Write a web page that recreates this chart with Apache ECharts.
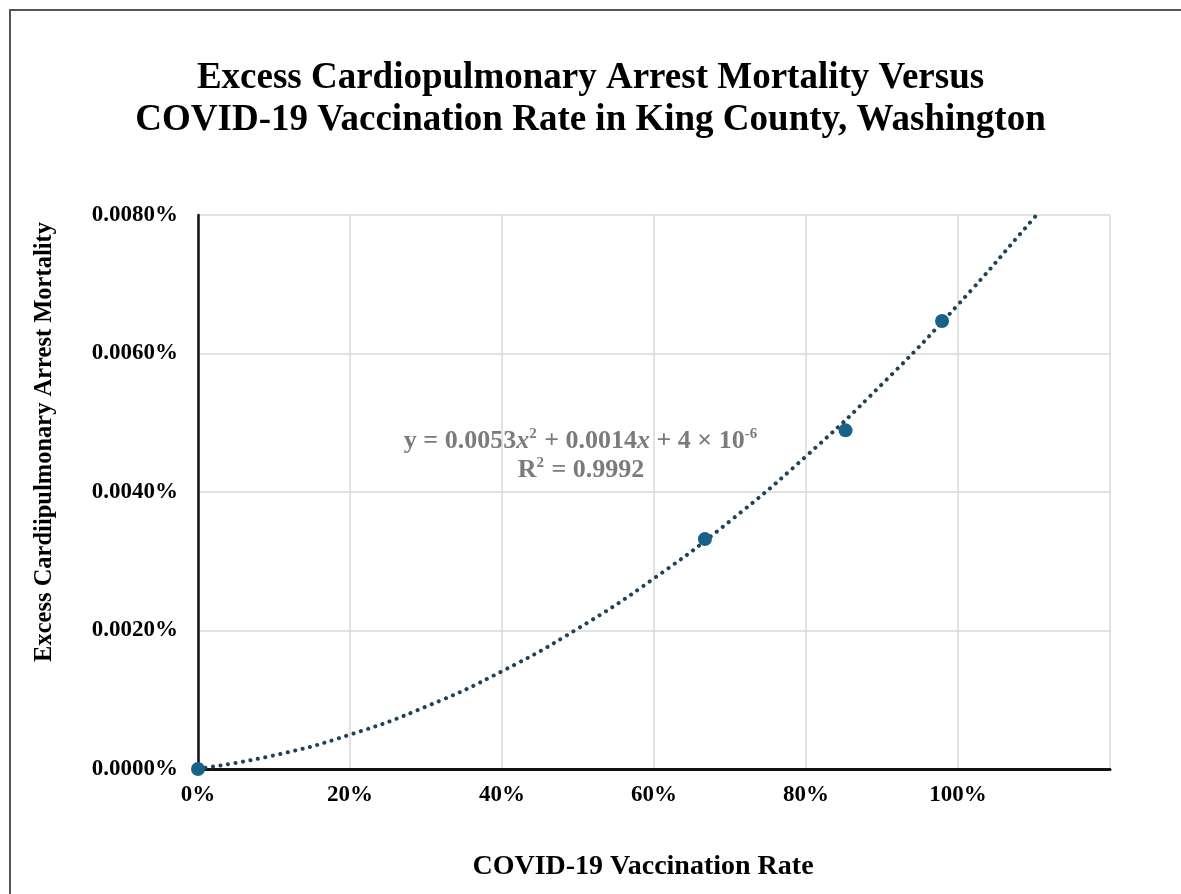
<!DOCTYPE html>
<html>
<head>
<meta charset="utf-8">
<title>Excess Cardiopulmonary Arrest Mortality</title>
<script src="https://cdn.jsdelivr.net/npm/echarts@6/dist/echarts.min.js"></script>
<style>
  html, body { margin: 0; padding: 0; background: #fff; }
  #chart { width: 1181px; height: 894px; }
</style>
</head>
<body>
<div id="chart"></div>
<script>
// observed points: vaccination rate (fraction), excess mortality (percent units)
var vaxRate = [0, 0.667, 0.852, 0.979];
var mortality = [0, 0.00332, 0.00489, 0.00647];

// trendline
var trendX = [0, 0.1, 0.2, 0.3, 0.4, 0.5, 0.6, 0.7, 0.8, 0.9, 1.0, 1.1, 1.103];
var trendY = [0.000004, 0.000197, 0.000496, 0.000901, 0.001412, 0.002029, 0.002752, 0.003581, 0.004516, 0.005557, 0.006704, 0.007957, 0.008];

var xTicks = [0, 0.2, 0.4, 0.6, 0.8, 1.0, 1.2];
var yTicks = [0, 0.002, 0.004, 0.006, 0.008];

var serif = '"Liberation Serif", "Times New Roman", serif';

var chart = echarts.init(document.getElementById('chart'));

var pts = vaxRate.map(function (x, i) { return [x, mortality[i]]; });
var trend = trendX.map(function (x, i) { return [x, trendY[i]]; });

var eqGray = '#7b7b7b';

var option = {
  backgroundColor: '#fff',
  animation: false,
  title: {
    text: 'Excess Cardiopulmonary Arrest Mortality Versus\nCOVID-19 Vaccination Rate in King County, Washington',
    left: 'center',
    top: 52,
    textStyle: {
      fontFamily: serif,
      fontWeight: 'bold',
      fontSize: 37,
      lineHeight: 42,
      color: '#000'
    }
  },
  grid: {
    left: 198,
    right: 71,
    top: 215,
    bottom: 125
  },
  xAxis: {
    type: 'value',
    min: xTicks[0],
    max: xTicks[xTicks.length - 1],
    interval: 0.2,
    name: 'COVID-19 Vaccination Rate',
    nameLocation: 'middle',
    nameGap: 84,
    nameTextStyle: { fontFamily: serif, fontWeight: 'bold', fontSize: 28, color: '#000', padding: [0, 22, 0, 0] },
    axisLine: { lineStyle: { color: '#111', width: 3 } },
    axisTick: { show: false },
    axisLabel: {
      margin: 15,
      fontFamily: serif,
      fontWeight: 'bold',
      fontSize: 23,
      color: '#000',
      formatter: function (v) {
        if (v > 1.1) return '';
        return Math.round(v * 100) + '%';
      }
    },
    splitLine: { lineStyle: { color: '#d9d9d9', width: 1.5 } }
  },
  yAxis: {
    type: 'value',
    min: yTicks[0],
    max: yTicks[yTicks.length - 1],
    interval: 0.002,
    name: 'Excess Cardiipulmonary Arrest Mortality',
    nameLocation: 'middle',
    nameGap: 141,
    nameTextStyle: { fontFamily: serif, fontWeight: 'bold', fontSize: 24.5, color: '#000', padding: [0, 0, 0, 100] },
    axisLine: { show: true, lineStyle: { color: '#111', width: 2.5 } },
    axisTick: { show: false },
    axisLabel: {
      margin: 20,
      fontFamily: serif,
      fontWeight: 'bold',
      fontSize: 23,
      color: '#000',
      formatter: function (v) { return v.toFixed(4) + '%'; }
    },
    splitLine: { lineStyle: { color: '#d9d9d9', width: 1.5 } }
  },
  graphic: [
    {
      type: 'rect',
      silent: true,
      shape: { x: 10, y: 10, width: 1190, height: 900 },
      style: { fill: null, stroke: '#555', lineWidth: 2 }
    },
    {
      type: 'text',
      x: 581,
      y: 456,
      style: {
        text: '{n|y = 0.0053}{i|x}{s|2}{n| + 0.0014}{i|x}{n| + 4 × 10}{s|-6}\n{n|R}{s|2}{n| = 0.9992}',
        font: 'bold 26px ' + serif,
        fill: eqGray,
        align: 'center',
        verticalAlign: 'middle',
        rich: {
          n: { fontFamily: serif, fontWeight: 'bold', fontSize: 26, fill: eqGray, lineHeight: 28 },
          i: { fontFamily: serif, fontWeight: 'bold', fontStyle: 'italic', fontSize: 26, fill: eqGray, lineHeight: 28 },
          s: { fontFamily: serif, fontWeight: 'bold', fontSize: 15, fill: eqGray, padding: [0, 1, 14, 0] }
        }
      }
    }
  ],
  series: [
    {
      name: 'Trendline',
      type: 'line',
      data: trend,
      smooth: true,
      showSymbol: false,
      symbol: 'none',
      silent: true,
      z: 3,
      lineStyle: { color: '#1f4258', width: 4, type: [0.1, 7.5], cap: 'round' }
    },
    {
      name: 'Observed',
      type: 'scatter',
      data: pts,
      symbol: 'circle',
      symbolSize: 14,
      z: 4,
      itemStyle: { color: '#1a6189', opacity: 1 }
    }
  ]
};

chart.setOption(option);
</script>
</body>
</html>
